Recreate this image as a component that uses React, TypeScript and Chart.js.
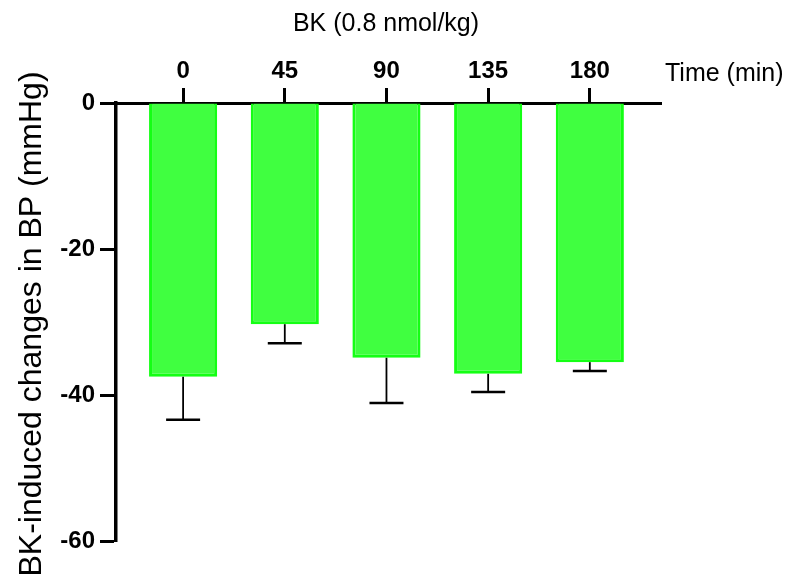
import React, { useEffect, useRef } from "react";
import { Chart, registerables } from "chart.js";

Chart.register(...registerables);

const categories = ["0", "45", "90", "135", "180"];
const meanValues = [-37.5, -30.3, -34.9, -37.1, -35.5];
const errorValues = [5.9, 2.6, 6.2, 2.5, 1.2];
const yTickValues = [0, -20, -40, -60];
const chartTitle = "BK (0.8 nmol/kg)";
const xAxisLabel = "Time (min)";
const yAxisLabel = "BK-induced changes in BP (mmHg)";

const FONT = '"Liberation Sans", Arial, Helvetica, sans-serif';

export default function App() {
  const ref = useRef<HTMLCanvasElement | null>(null);

  useEffect(() => {
    const canvas = ref.current;
    if (!canvas) return;

    const errorBars = {
      id: "errorBars",
      afterDatasetsDraw(chart: any) {
        const ctx = chart.ctx;
        const xs = chart.scales.x;
        const ys = chart.scales.y;
        ctx.save();
        ctx.strokeStyle = "#000";
        meanValues.forEach((v, i) => {
          const x = xs.getPixelForValue(i);
          const y1 = ys.getPixelForValue(v);
          const y2 = ys.getPixelForValue(v - errorValues[i]);
          ctx.lineWidth = 1.8;
          ctx.beginPath();
          ctx.moveTo(x, y1);
          ctx.lineTo(x, y2);
          ctx.stroke();
          ctx.lineWidth = 2.5;
          ctx.beginPath();
          ctx.moveTo(x - 17, y2);
          ctx.lineTo(x + 17, y2);
          ctx.stroke();
        });
        ctx.restore();
      },
    };

    const texts = {
      id: "texts",
      afterDraw(chart: any) {
        const ctx = chart.ctx;
        const area = chart.chartArea;
        ctx.save();
        ctx.fillStyle = "#000";
        ctx.font = `25px ${FONT}`;
        ctx.textAlign = "center";
        ctx.textBaseline = "alphabetic";
        ctx.fillText(chartTitle, 386, 31);
        ctx.textAlign = "left";
        ctx.fillText(xAxisLabel, area.right + 4, 81);
        ctx.font = `32px ${FONT}`;
        ctx.translate(41, (area.top + area.bottom) / 2 + 2);
        ctx.rotate(-Math.PI / 2);
        ctx.textAlign = "center";
        ctx.fillText(yAxisLabel, 0, 0);
        ctx.restore();
      },
    };

    const chart = new Chart(canvas, {
      type: "bar",
      data: {
        datasets: [
          {
            data: meanValues.map((v, i) => ({ x: i, y: v })),
            backgroundColor: "#40FF40",
            borderColor: "#14FF14",
            borderWidth: 3,
            borderSkipped: "start",
            barPercentage: 0.67,
            categoryPercentage: 1,
          },
        ],
      },
      options: {
        responsive: false,
        animation: false,
        layout: { padding: { left: 0, top: 0, right: 128, bottom: 38 } },
        plugins: {
          legend: { display: false },
          tooltip: { enabled: false },
          title: { display: false },
        },
        scales: {
          x: {
            type: "linear",
            position: "top",
            offset: false,
            min: -0.66,
            max: 4.7,
            afterBuildTicks: (scale: any) => {
              scale.ticks = categories.map((_, i) => ({ value: i }));
            },
            afterFit: (scale: any) => {
              scale.height = 103;
            },
            grid: {
              display: true,
              offset: false,
              drawOnChartArea: false,
              drawTicks: true,
              tickLength: 15,
              tickWidth: 3,
              tickColor: "#000",
            },
            border: { display: true, color: "#000", width: 3 },
            ticks: {
              color: "#000",
              font: { family: FONT, size: 24, weight: "bold" },
              padding: 2,
              maxRotation: 0,
              autoSkip: false,
              callback: (v: any) => categories[Math.round(Number(v))] ?? "",
            },
          },
          y: {
            type: "linear",
            position: "left",
            min: -60,
            max: 0,
            afterBuildTicks: (scale: any) => {
              scale.ticks = yTickValues.map((v) => ({ value: v }));
            },
            afterFit: (scale: any) => {
              scale.width = 116;
            },
            grid: {
              display: true,
              drawOnChartArea: false,
              drawTicks: true,
              tickLength: 16,
              tickWidth: 3,
              tickColor: "#000",
            },
            border: { display: true, color: "#000", width: 3.5 },
            ticks: {
              color: "#000",
              font: { family: FONT, size: 24, weight: "bold" },
              padding: 5,
              autoSkip: false,
            },
          },
        },
      },
      plugins: [errorBars, texts],
    } as any);

    return () => chart.destroy();
  }, []);

  return (
    <div style={{ position: "fixed", left: 0, top: 0, width: 789, height: 579, background: "#fff" }}>
      <canvas ref={ref} width={789} height={579} style={{ display: "block" }} />
    </div>
  );
}
